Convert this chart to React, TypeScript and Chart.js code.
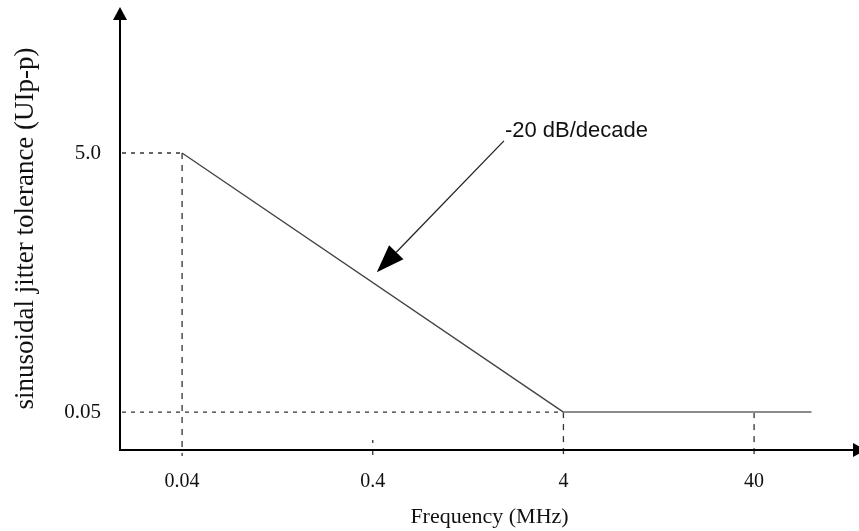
import React, { useEffect, useRef } from "react";
import { Chart, registerables } from "chart.js";

Chart.register(...registerables);

// ---- data ----
const FREQ_MHZ = [0.04, 4, 80];
const TOLERANCE_UIPP = [5.0, 0.05, 0.05];
const X_TICKS = [0.04, 0.4, 4, 40];
const X_TICK_LABELS = ["0.04", "0.4", "4", "40"];
const Y_TICKS = [0.05, 5.0];
const Y_TICK_LABELS = ["0.05", "5.0"];
const X_RANGE = [0.0189, 142];
const Y_RANGE = [0.0255, 67];
const X_TITLE = "Frequency (MHz)";
const Y_TITLE = "sinusoidal jitter tolerance (UIp-p)";
const SLOPE_LABEL = "-20 dB/decade";
const ARROW_FROM = [1.95, 6.2];
const ARROW_TO = [0.42, 0.6];
// guide lines (dashed), in data units
const H_GUIDES = [
  { y: 5.0, toX: 0.04 },
  { y: 0.05, toX: 4 },
];
const V_GUIDES = [
  { x: 0.04, fromY: 5.0 },
  { x: 4, fromY: 0.05 },
  { x: 40, fromY: 0.05 },
];
const MINOR_TICK_X = [0.4];

const SERIF = "'Liberation Serif', 'Times New Roman', serif";
const TEXT = "#111";

const guidesPlugin = {
  id: "guides",
  beforeDatasetsDraw(chart: any) {
    const { ctx, chartArea, scales } = chart;
    const xs = scales.x, ys = scales.y;
    ctx.save();
    ctx.strokeStyle = "#333";
    ctx.lineWidth = 1.3;
    ctx.setLineDash([4, 5]);
    for (const g of H_GUIDES) {
      const py = ys.getPixelForValue(g.y);
      ctx.beginPath();
      ctx.moveTo(chartArea.left + 2, py);
      ctx.lineTo(xs.getPixelForValue(g.toX), py);
      ctx.stroke();
    }
    ctx.setLineDash([6, 6]);
    for (const g of V_GUIDES) {
      const px = xs.getPixelForValue(g.x);
      ctx.beginPath();
      ctx.moveTo(px, ys.getPixelForValue(g.fromY));
      ctx.lineTo(px, chartArea.bottom + 6);
      ctx.stroke();
    }
    ctx.setLineDash([]);
    for (const v of MINOR_TICK_X) {
      const px = xs.getPixelForValue(v);
      ctx.beginPath();
      ctx.moveTo(px, chartArea.bottom - 10);
      ctx.lineTo(px, chartArea.bottom - 7);
      ctx.moveTo(px, chartArea.bottom);
      ctx.lineTo(px, chartArea.bottom + 5);
      ctx.stroke();
    }
    ctx.restore();
  },
  afterDatasetsDraw(chart: any) {
    const { ctx, chartArea, scales } = chart;
    const xs = scales.x, ys = scales.y;
    ctx.save();
    // axes
    ctx.strokeStyle = "#000";
    ctx.fillStyle = "#000";
    ctx.lineWidth = 2;
    ctx.beginPath();
    ctx.moveTo(chartArea.left, chartArea.top + 10);
    ctx.lineTo(chartArea.left, chartArea.bottom);
    ctx.lineTo(chartArea.right - 6, chartArea.bottom);
    ctx.stroke();
    // y arrow
    ctx.beginPath();
    ctx.moveTo(chartArea.left, chartArea.top);
    ctx.lineTo(chartArea.left - 7, chartArea.top + 13);
    ctx.lineTo(chartArea.left + 7, chartArea.top + 13);
    ctx.closePath();
    ctx.fill();
    // x arrow
    ctx.beginPath();
    ctx.moveTo(chartArea.right + 7, chartArea.bottom);
    ctx.lineTo(chartArea.right - 6, chartArea.bottom - 7);
    ctx.lineTo(chartArea.right - 6, chartArea.bottom + 7);
    ctx.closePath();
    ctx.fill();

    // annotation arrow
    const x0 = xs.getPixelForValue(ARROW_FROM[0]);
    const y0 = ys.getPixelForValue(ARROW_FROM[1]);
    const x1 = xs.getPixelForValue(ARROW_TO[0]);
    const y1 = ys.getPixelForValue(ARROW_TO[1]);
    const ang = Math.atan2(y1 - y0, x1 - x0);
    const headLen = 28, headHalf = 10;
    const bx = x1 - headLen * Math.cos(ang);
    const by = y1 - headLen * Math.sin(ang);
    ctx.lineWidth = 1.3;
    ctx.strokeStyle = "#222";
    ctx.beginPath();
    ctx.moveTo(x0, y0);
    ctx.lineTo(bx, by);
    ctx.stroke();
    ctx.fillStyle = "#000";
    ctx.beginPath();
    ctx.moveTo(x1, y1);
    ctx.lineTo(bx + headHalf * Math.sin(ang), by - headHalf * Math.cos(ang));
    ctx.lineTo(bx - headHalf * Math.sin(ang), by + headHalf * Math.cos(ang));
    ctx.closePath();
    ctx.fill();

    // label
    ctx.fillStyle = TEXT;
    ctx.font = "22px 'Liberation Sans', Arial, sans-serif";
    ctx.textAlign = "left";
    ctx.textBaseline = "alphabetic";
    ctx.fillText(SLOPE_LABEL, x0 + 1, y0 - 4);
    ctx.restore();
  },
};

export default function App() {
  const ref = useRef<HTMLCanvasElement | null>(null);

  useEffect(() => {
    if (!ref.current) return;
    const chart = new Chart(ref.current, {
      type: "line",
      data: {
        datasets: [
          {
            data: FREQ_MHZ.map((x, i) => ({ x, y: TOLERANCE_UIPP[i] })),
            borderColor: "#555",
            borderWidth: 1.5,
            pointRadius: 0,
            fill: false,
            tension: 0,
            segment: {
              borderColor: (c: any) =>
                c.p0.parsed.y === c.p1.parsed.y ? "#8c8c8c" : "#444",
              borderWidth: (c: any) => (c.p0.parsed.y === c.p1.parsed.y ? 2 : 1.4),
            },
          } as any,
        ],
      },
      options: {
        animation: false,
        responsive: false,
        devicePixelRatio: 1,
        layout: { autoPadding: false, padding: { top: 7, left: 0, right: 0, bottom: 0 } },
        plugins: { legend: { display: false }, tooltip: { enabled: false } },
        scales: {
          x: {
            type: "logarithmic",
            min: X_RANGE[0],
            max: X_RANGE[1],
            bounds: "data",
            grid: { display: false, drawTicks: false },
            border: { display: false },
            afterBuildTicks: (s: any) => {
              s.ticks = X_TICKS.map((v) => ({ value: v }));
            },
            afterFit: (s: any) => {
              s.height = 81;
              s.paddingLeft = 0;
              s.paddingRight = 0;
            },
            ticks: {
              autoSkip: false,
              maxRotation: 0,
              padding: 20,
              color: TEXT,
              font: { family: SERIF, size: 20 },
              callback: (v: any) => {
                const i = X_TICKS.indexOf(Number(v));
                return i >= 0 ? X_TICK_LABELS[i] : "";
              },
            },
            title: {
              display: true,
              text: X_TITLE,
              color: TEXT,
              font: { family: SERIF, size: 22 },
              padding: { top: 0, bottom: 1 },
            },
          },
          y: {
            type: "logarithmic",
            min: Y_RANGE[0],
            max: Y_RANGE[1],
            bounds: "data",
            grid: { display: false, drawTicks: false },
            border: { display: false },
            afterBuildTicks: (s: any) => {
              s.ticks = Y_TICKS.map((v) => ({ value: v }));
            },
            afterFit: (s: any) => {
              s.width = 120;
              s.paddingTop = 0;
              s.paddingBottom = 0;
            },
            ticks: {
              autoSkip: false,
              padding: 19,
              color: TEXT,
              font: { family: SERIF, size: 21 },
              callback: (v: any) => {
                const i = Y_TICKS.indexOf(Number(v));
                return i >= 0 ? Y_TICK_LABELS[i] : "";
              },
            },
            title: {
              display: true,
              text: Y_TITLE,
              color: TEXT,
              font: { family: SERIF, size: 27 },
              padding: { top: 10, bottom: 0 },
            },
          },
        },
      },
      plugins: [guidesPlugin],
    });
    return () => chart.destroy();
  }, []);

  return (
    <div style={{ position: "absolute", left: 0, top: 0, width: 859, height: 531, background: "#fff" }}>
      <canvas ref={ref} width={859} height={531} style={{ display: "block" }} />
    </div>
  );
}
